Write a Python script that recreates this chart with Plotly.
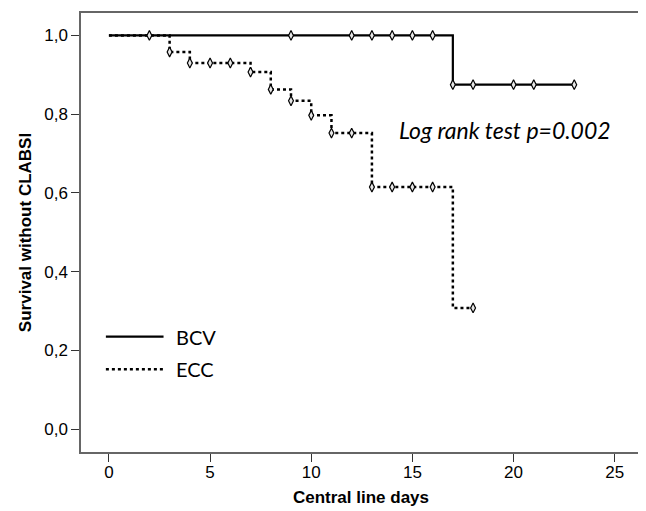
import plotly.graph_objects as go

# BCV group: step curve (event times / survival) and censor marks
bcv_step_x = [0, 17, 23]
bcv_step_y = [1.0, 0.875, 0.875]
bcv_cens_x = [2, 9, 12, 13, 14, 15, 16, 17, 18, 20, 21, 23]
bcv_cens_y = [1.0, 1.0, 1.0, 1.0, 1.0, 1.0, 1.0, 0.875, 0.875, 0.875, 0.875, 0.875]

# ECC group
ecc_step_x = [0, 3, 4, 7, 8, 9, 10, 11, 13, 17, 18]
ecc_step_y = [1.0, 0.958, 0.930, 0.907, 0.863, 0.834, 0.797, 0.752, 0.615, 0.308, 0.308]
ecc_cens_x = [3, 4, 5, 6, 7, 8, 9, 10, 11, 12, 13, 14, 15, 16, 18]
ecc_cens_y = [0.958, 0.930, 0.930, 0.930, 0.907, 0.863, 0.834, 0.797, 0.752, 0.752,
              0.615, 0.615, 0.615, 0.615, 0.308]

x_ticks = [0, 5, 10, 15, 20, 25]
y_ticks = [0.0, 0.2, 0.4, 0.6, 0.8, 1.0]
y_ticktext = ["0,0", "0,2", "0,4", "0,6", "0,8", "1,0"]

fig = go.Figure()
fig.add_trace(go.Scatter(x=bcv_step_x, y=bcv_step_y, mode="lines", line_shape="hv",
                         line=dict(color="black", width=2.2), name="BCV", showlegend=False))
fig.add_trace(go.Scatter(x=ecc_step_x, y=ecc_step_y, mode="lines", line_shape="hv",
                         line=dict(color="black", width=2.5, dash="dot"), name="ECC", showlegend=False))
marker = dict(symbol="diamond-tall", size=7, color="#e8e8e8", line=dict(color="black", width=1.2))
fig.add_trace(go.Scatter(x=bcv_cens_x, y=bcv_cens_y, mode="markers", marker=marker,
                         showlegend=False, name="BCV censored"))
fig.add_trace(go.Scatter(x=ecc_cens_x, y=ecc_cens_y, mode="markers", marker=marker,
                         showlegend=False, name="ECC censored"))

# Manual legend
fig.add_shape(type="line", x0=-0.15, x1=2.7, y0=0.235, y1=0.235, xref="x", yref="y",
              line=dict(color="black", width=2.2))
fig.add_shape(type="line", x0=-0.15, x1=2.7, y0=0.152, y1=0.152, xref="x", yref="y",
              line=dict(color="black", width=2.5, dash="dot"))
fig.add_annotation(x=3.2, y=0.235, text="BCV", showarrow=False, xanchor="left",
                   font=dict(family="Lato", size=20, color="black"))
fig.add_annotation(x=3.2, y=0.152, text="ECC", showarrow=False, xanchor="left",
                   font=dict(family="Lato", size=20, color="black"))
fig.add_annotation(x=14.25, y=0.76, text="<i>Log rank test p=0.002</i>", showarrow=False,
                   xanchor="left", font=dict(family="Lato", size=23, color="black"))

fig.update_layout(
    width=638, height=503,
    margin=dict(l=73, r=3, t=5, b=59),
    paper_bgcolor="white", plot_bgcolor="white",
    font=dict(family="Liberation Sans", color="black"),
    xaxis=dict(range=[-1.38, 26.3], tickvals=x_ticks, showgrid=False, zeroline=False,
               ticks="outside", ticklen=8, tickwidth=1.3, tickcolor="#333",
               showline=True, linecolor="#666", linewidth=1.5, mirror=True,
               tickfont=dict(size=17), automargin=True, ticklabelstandoff=-4,
               title=dict(text="<b>Central line days</b>", font=dict(size=17), standoff=10)),
    yaxis=dict(range=[-0.058, 1.057], tickvals=y_ticks, ticktext=y_ticktext, showgrid=False,
               zeroline=False, ticks="outside", ticklen=8, tickwidth=1.3, tickcolor="#333",
               showline=True, linecolor="#666", linewidth=1.5, mirror=True,
               tickfont=dict(size=17), automargin=True,
               title=dict(text="<b>Survival without CLABSI</b>", font=dict(size=17), standoff=8)),
)

fig.write_html("out.html")
